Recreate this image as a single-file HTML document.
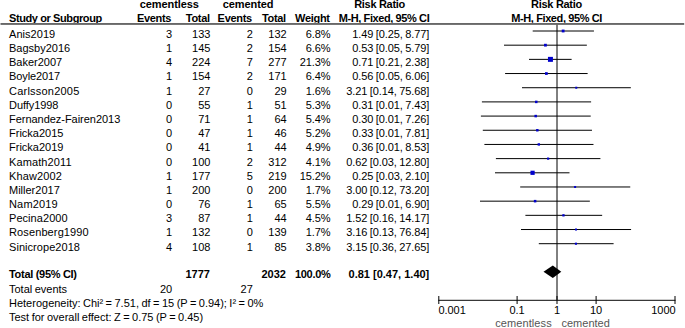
<!DOCTYPE html><html><head><meta charset="utf-8"><title>Forest plot</title><style>
html,body{margin:0;padding:0;background:#fff;}
svg{display:block;}
text{font-family:"Liberation Sans", sans-serif;font-size:11px;fill:#000;word-spacing:-0.6px;}
.b{font-weight:bold;letter-spacing:-0.3px;word-spacing:0;}
.e{text-anchor:end;}
.m{text-anchor:middle;}
.g{fill:#555;}
.n{letter-spacing:-0.07px;}
</style></head><body>
<svg width="685" height="328" viewBox="0 0 685 328">
<line x1="557.00" x2="557.00" y1="24" y2="300.5" stroke="#000" stroke-width="1"/>
<text class="b m" x="169.30" y="8.00" style="letter-spacing:-0.1px">cementless</text>
<text class="b m" x="248.10" y="8.00" style="letter-spacing:-0.1px">cemented</text>
<text class="b m" x="379.60" y="8.00">Risk Ratio</text>
<text class="b m" x="556.50" y="8.00">Risk Ratio</text>
<text class="b" x="9.00" y="22.00" style="letter-spacing:-0.4px">Study or Subgroup</text>
<text class="b e" x="171.20" y="22.00">Events</text>
<text class="b e" x="209.80" y="22.00">Total</text>
<text class="b e" x="251.90" y="22.00">Events</text>
<text class="b e" x="285.90" y="22.00">Total</text>
<text class="b e" x="329.70" y="22.00">Weight</text>
<text class="b e" x="429.30" y="22.00" style="letter-spacing:-0.4px">M-H, Fixed, 95% CI</text>
<text class="b m" x="556.60" y="22.00" style="letter-spacing:-0.4px">M-H, Fixed, 95% CI</text>
<rect x="0.5" y="23.0" width="683.7" height="1.9" fill="#686868"/>
<text x="9.00" y="37.90" style="letter-spacing:0.043px">Anis2019</text>
<text class="e" x="172.20" y="37.90">3</text>
<text class="e" x="210.40" y="37.90">133</text>
<text class="e" x="252.80" y="37.90">2</text>
<text class="e" x="286.70" y="37.90">132</text>
<text class="e n" x="330.50" y="37.90">6.8%</text>
<text class="e n" x="429.30" y="37.90">1.49 [0.25, 8.77]</text>
<line x1="532.70" x2="593.95" y1="31.00" y2="31.00" stroke="#000" stroke-width="1"/>
<rect x="561.72" y="29.59" width="2.82" height="2.82" fill="#0000cc"/>
<text x="9.00" y="52.08">Bagsby2016</text>
<text class="e" x="172.20" y="52.08">1</text>
<text class="e" x="210.40" y="52.08">145</text>
<text class="e" x="252.80" y="52.08">2</text>
<text class="e" x="286.70" y="52.08">154</text>
<text class="e n" x="330.50" y="52.08">6.6%</text>
<text class="e n" x="429.30" y="52.08">0.53 [0.05, 5.79]</text>
<line x1="504.00" x2="586.85" y1="45.18" y2="45.18" stroke="#000" stroke-width="1"/>
<rect x="544.05" y="43.79" width="2.77" height="2.77" fill="#0000cc"/>
<text x="9.00" y="66.26">Baker2007</text>
<text class="e" x="172.20" y="66.26">4</text>
<text class="e" x="210.40" y="66.26">224</text>
<text class="e" x="252.80" y="66.26">7</text>
<text class="e" x="286.70" y="66.26">277</text>
<text class="e n" x="330.50" y="66.26">21.3%</text>
<text class="e n" x="429.30" y="66.26">0.71 [0.21, 2.38]</text>
<line x1="529.00" x2="571.64" y1="59.36" y2="59.36" stroke="#000" stroke-width="1"/>
<rect x="547.95" y="56.87" width="4.98" height="4.98" fill="#0000cc"/>
<text x="9.00" y="80.44" style="letter-spacing:-0.100px">Boyle2017</text>
<text class="e" x="172.20" y="80.44">1</text>
<text class="e" x="210.40" y="80.44">154</text>
<text class="e" x="252.80" y="80.44">2</text>
<text class="e" x="286.70" y="80.44">171</text>
<text class="e n" x="330.50" y="80.44">6.4%</text>
<text class="e n" x="429.30" y="80.44">0.56 [0.05, 6.06]</text>
<line x1="505.10" x2="587.63" y1="73.54" y2="73.54" stroke="#000" stroke-width="1"/>
<rect x="545.01" y="72.17" width="2.73" height="2.73" fill="#0000cc"/>
<text x="9.00" y="94.62" style="letter-spacing:0.218px">Carlsson2005</text>
<text class="e" x="172.20" y="94.62">1</text>
<text class="e" x="210.40" y="94.62">27</text>
<text class="e" x="252.80" y="94.62">0</text>
<text class="e" x="286.70" y="94.62">29</text>
<text class="e n" x="330.50" y="94.62">1.6%</text>
<text class="e n" x="429.30" y="94.62">3.21 [0.14, 75.68]</text>
<line x1="522.00" x2="630.83" y1="87.72" y2="87.72" stroke="#000" stroke-width="1"/>
<rect x="575.26" y="86.72" width="2.00" height="2.00" fill="#0000cc"/>
<text x="9.00" y="108.80" style="letter-spacing:-0.062px">Duffy1998</text>
<text class="e" x="172.20" y="108.80">0</text>
<text class="e" x="210.40" y="108.80">55</text>
<text class="e" x="252.80" y="108.80">1</text>
<text class="e" x="286.70" y="108.80">51</text>
<text class="e n" x="330.50" y="108.80">5.3%</text>
<text class="e n" x="429.30" y="108.80">0.31 [0.01, 7.43]</text>
<line x1="481.90" x2="591.12" y1="101.90" y2="101.90" stroke="#000" stroke-width="1"/>
<rect x="535.02" y="100.66" width="2.49" height="2.49" fill="#0000cc"/>
<text x="9.00" y="122.98" style="letter-spacing:-0.032px">Fernandez-Fairen2013</text>
<text class="e" x="172.20" y="122.98">0</text>
<text class="e" x="210.40" y="122.98">71</text>
<text class="e" x="252.80" y="122.98">1</text>
<text class="e" x="286.70" y="122.98">64</text>
<text class="e n" x="330.50" y="122.98">5.4%</text>
<text class="e n" x="429.30" y="122.98">0.30 [0.01, 7.26]</text>
<line x1="480.90" x2="590.72" y1="116.08" y2="116.08" stroke="#000" stroke-width="1"/>
<rect x="534.44" y="114.83" width="2.51" height="2.51" fill="#0000cc"/>
<text x="9.00" y="137.16">Fricka2015</text>
<text class="e" x="172.20" y="137.16">0</text>
<text class="e" x="210.40" y="137.16">47</text>
<text class="e" x="252.80" y="137.16">1</text>
<text class="e" x="286.70" y="137.16">46</text>
<text class="e n" x="330.50" y="137.16">5.2%</text>
<text class="e n" x="429.30" y="137.16">0.33 [0.01, 7.81]</text>
<line x1="482.80" x2="591.97" y1="130.26" y2="130.26" stroke="#000" stroke-width="1"/>
<rect x="536.10" y="129.03" width="2.46" height="2.46" fill="#0000cc"/>
<text x="9.00" y="151.34">Fricka2019</text>
<text class="e" x="172.20" y="151.34">0</text>
<text class="e" x="210.40" y="151.34">41</text>
<text class="e" x="252.80" y="151.34">1</text>
<text class="e" x="286.70" y="151.34">44</text>
<text class="e n" x="330.50" y="151.34">4.9%</text>
<text class="e n" x="429.30" y="151.34">0.36 [0.01, 8.53]</text>
<line x1="484.40" x2="593.48" y1="144.44" y2="144.44" stroke="#000" stroke-width="1"/>
<rect x="537.62" y="143.24" width="2.39" height="2.39" fill="#0000cc"/>
<text x="9.00" y="165.52" style="letter-spacing:0.111px">Kamath2011</text>
<text class="e" x="172.20" y="165.52">0</text>
<text class="e" x="210.40" y="165.52">100</text>
<text class="e" x="252.80" y="165.52">2</text>
<text class="e" x="286.70" y="165.52">312</text>
<text class="e n" x="330.50" y="165.52">4.1%</text>
<text class="e n" x="429.30" y="165.52">0.62 [0.03, 12.80]</text>
<line x1="495.90" x2="600.42" y1="158.62" y2="158.62" stroke="#000" stroke-width="1"/>
<rect x="547.03" y="157.53" width="2.19" height="2.19" fill="#0000cc"/>
<text x="9.00" y="179.70" style="letter-spacing:0.114px">Khaw2002</text>
<text class="e" x="172.20" y="179.70">1</text>
<text class="e" x="210.40" y="179.70">177</text>
<text class="e" x="252.80" y="179.70">5</text>
<text class="e" x="286.70" y="179.70">219</text>
<text class="e n" x="330.50" y="179.70">15.2%</text>
<text class="e n" x="429.30" y="179.70">0.25 [0.03, 2.10]</text>
<line x1="495.00" x2="569.50" y1="172.80" y2="172.80" stroke="#000" stroke-width="1"/>
<rect x="530.47" y="170.69" width="4.21" height="4.21" fill="#0000cc"/>
<text x="9.00" y="193.88">Miller2017</text>
<text class="e" x="172.20" y="193.88">1</text>
<text class="e" x="210.40" y="193.88">200</text>
<text class="e" x="252.80" y="193.88">0</text>
<text class="e" x="286.70" y="193.88">200</text>
<text class="e n" x="330.50" y="193.88">1.7%</text>
<text class="e n" x="429.30" y="193.88">3.00 [0.12, 73.20]</text>
<line x1="520.20" x2="630.26" y1="186.98" y2="186.98" stroke="#000" stroke-width="1"/>
<rect x="574.10" y="185.98" width="2.00" height="2.00" fill="#0000cc"/>
<text x="9.00" y="208.06" style="letter-spacing:0.167px">Nam2019</text>
<text class="e" x="172.20" y="208.06">0</text>
<text class="e" x="210.40" y="208.06">76</text>
<text class="e" x="252.80" y="208.06">1</text>
<text class="e" x="286.70" y="208.06">65</text>
<text class="e n" x="330.50" y="208.06">5.5%</text>
<text class="e n" x="429.30" y="208.06">0.29 [0.01, 6.90]</text>
<line x1="480.00" x2="589.85" y1="201.16" y2="201.16" stroke="#000" stroke-width="1"/>
<rect x="533.85" y="199.89" width="2.53" height="2.53" fill="#0000cc"/>
<text x="9.00" y="222.24" style="letter-spacing:0.056px">Pecina2000</text>
<text class="e" x="172.20" y="222.24">3</text>
<text class="e" x="210.40" y="222.24">87</text>
<text class="e" x="252.80" y="222.24">1</text>
<text class="e" x="286.70" y="222.24">44</text>
<text class="e n" x="330.50" y="222.24">4.5%</text>
<text class="e n" x="429.30" y="222.24">1.52 [0.16, 14.17]</text>
<line x1="525.40" x2="602.16" y1="215.34" y2="215.34" stroke="#000" stroke-width="1"/>
<rect x="562.32" y="214.19" width="2.29" height="2.29" fill="#0000cc"/>
<text x="9.00" y="236.42" style="letter-spacing:0.117px">Rosenberg1990</text>
<text class="e" x="172.20" y="236.42">1</text>
<text class="e" x="210.40" y="236.42">132</text>
<text class="e" x="252.80" y="236.42">0</text>
<text class="e" x="286.70" y="236.42">139</text>
<text class="e n" x="330.50" y="236.42">1.7%</text>
<text class="e n" x="429.30" y="236.42">3.16 [0.13, 76.84]</text>
<line x1="521.00" x2="631.09" y1="229.52" y2="229.52" stroke="#000" stroke-width="1"/>
<rect x="574.99" y="228.52" width="2.00" height="2.00" fill="#0000cc"/>
<text x="9.00" y="250.60" style="letter-spacing:0.050px">Sinicrope2018</text>
<text class="e" x="172.20" y="250.60">4</text>
<text class="e" x="210.40" y="250.60">108</text>
<text class="e" x="252.80" y="250.60">1</text>
<text class="e" x="286.70" y="250.60">85</text>
<text class="e n" x="330.50" y="250.60">3.8%</text>
<text class="e n" x="429.30" y="250.60">3.15 [0.36, 27.65]</text>
<line x1="538.80" x2="613.60" y1="243.70" y2="243.70" stroke="#000" stroke-width="1"/>
<rect x="574.88" y="242.65" width="2.11" height="2.11" fill="#0000cc"/>
<text class="b" x="9.00" y="278.20">Total (95% CI)</text>
<text class="b e" x="209.90" y="278.20" style="letter-spacing:0">1777</text>
<text class="b e" x="285.90" y="278.20" style="letter-spacing:0">2032</text>
<text class="b e" x="330.50" y="278.20">100.0%</text>
<text class="b e" x="429.30" y="278.20" style="letter-spacing:0">0.81 [0.47, 1.40]</text>
<polygon points="543.5,271.7 552.8,265.5 561.3,271.7 552.8,277.9" fill="#000"/>
<text x="9.00" y="293.14">Total events</text>
<text class="e" x="172.20" y="293.14">20</text>
<text class="e" x="252.80" y="293.14">27</text>
<text x="9.00" y="307.32">Heterogeneity: Chi² = 7.51, df = 15 (P = 0.94); I² = 0%</text>
<text x="9.00" y="320.70">Test for overall effect: Z = 0.75 (P = 0.45)</text>
<line x1="438.3" x2="675.5" y1="300.3" y2="300.3" stroke="#383838" stroke-width="1.3"/>
<line x1="438.80" x2="438.80" y1="296" y2="304" stroke="#000" stroke-width="1"/>
<line x1="517.10" x2="517.10" y1="296" y2="304" stroke="#000" stroke-width="1"/>
<line x1="557.00" x2="557.00" y1="296" y2="304" stroke="#000" stroke-width="1"/>
<line x1="596.10" x2="596.10" y1="296" y2="304" stroke="#000" stroke-width="1"/>
<line x1="675.00" x2="675.00" y1="296" y2="304" stroke="#000" stroke-width="1"/>
<text class="n" x="438.50" y="314.00">0.001</text>
<text class="m" x="517.10" y="314.00">0.1</text>
<text class="m" x="557.00" y="314.00">1</text>
<text class="m" x="596.10" y="314.00">10</text>
<text class="e n" x="675.50" y="314.00">1000</text>
<text class="e g" x="551.80" y="326.50" style="letter-spacing:0.1px">cementless</text>
<text class="g" x="561.50" y="326.50">cemented</text>
</svg></body></html>
